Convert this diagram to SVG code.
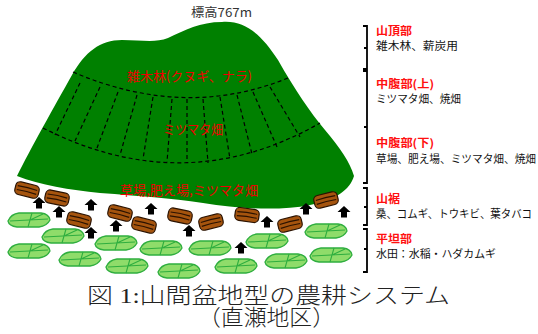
<svg xmlns="http://www.w3.org/2000/svg" xmlns:xlink="http://www.w3.org/1999/xlink" width="538" height="334" viewBox="0 0 538 334">
  <style>
    .zone { font-family: "Noto Sans CJK JP", "Noto Sans", sans-serif; font-size: 13px; fill: #ee0000; }
    .head { font-family: "Noto Sans CJK JP", "Noto Sans", sans-serif; font-size: 11px; fill: #ff1010; font-weight: bold; }
    .note { font-family: "Noto Sans CJK JP", "Noto Sans", sans-serif; font-size: 10.8px; fill: #111; }
    .peak { font-family: "Noto Sans CJK JP", "Noto Sans", sans-serif; font-size: 12px; fill: #333; }
    .caption { font-family: "Liberation Serif", "Noto Sans CJK JP", serif; font-size: 22px; fill: #222; font-weight: 300; }
    .dash { fill: none; stroke: #000; stroke-width: 1.2; stroke-dasharray: 4 3; }
    .brace { fill: none; stroke: #000; stroke-width: 1.8; }
  </style>
  <defs>
    <g id="leaf">
      <path d="M-21,1 Q-18,-6 -10,-7 L12,-7 Q20,-6 21,0 Q18,6 10,7 L-12,7 Q-20,6 -21,1 Z" fill="#8fdc6a" stroke="#2fae3f" stroke-width="1.3"/>
      <path d="M-19,1 L19,-1 M3,-7 L-1,7 M1,0 L14,-6" fill="none" stroke="#2fae3f" stroke-width="1.1"/>
    </g>
    <g id="log">
      <rect x="-12" y="-6.5" width="24" height="13" rx="4.5" fill="#a5540e" stroke="#2a1200" stroke-width="1.2"/>
      <path d="M-10,-2 Q0,-3 10,-2 M-10,2 Q0,1 10,2" fill="none" stroke="#2a1200" stroke-width="1.1"/>
    </g>
    <path id="arrow" d="M0,-6 L6.5,0 L3,0 L3,5.5 L-3,5.5 L-3,0 L-6.5,0 Z" fill="#000"/>
  </defs>

  <rect width="538" height="334" fill="#fff"/>

  <!-- mountain -->
  <g id="mountain">
    <path d="M17,176 C30,150 55,105 72,75 C85,52 100,40 122,40 C142,40 155,43 168,38 C185,30 200,22 222,22 C245,20 262,35 278,60 C295,90 310,112 325,130 C340,148 350,162 354,176 C350,190 335,200 310,205 C280,211 240,209 203,203 C170,198 140,196 100,193 C70,190 40,185 17,176 Z" fill="#008000"/>
    <path class="dash" d="M73,72 Q185,120 288,78"/>
    <path class="dash" d="M43,128 Q185,200 320,123"/>
    <path class="dash" d="M80,83 L55,135 M100,87 L75,141 M118,92 L97,148 M137,95 L120,155 M153,97 L143,159 M172,99 L167,162 M187,99 L187,163 M203,99 L208,163 M220,97 L230,159 M237,95 L252,154 M253,92 L277,147 M270,87 L300,137"/>
  </g>

  <!-- lowland fields -->
  <g id="fields">
    <use xlink:href="#leaf" x="29" y="220"/>
    <use xlink:href="#leaf" x="63" y="236"/>
    <use xlink:href="#leaf" x="29" y="251"/>
    <use xlink:href="#leaf" x="80" y="259"/>
    <use xlink:href="#leaf" x="116" y="243"/>
    <use xlink:href="#leaf" x="127" y="266"/>
    <use xlink:href="#leaf" x="161" y="248"/>
    <use xlink:href="#leaf" x="179" y="271"/>
    <use xlink:href="#leaf" x="210" y="248"/>
    <use xlink:href="#leaf" x="236" y="266"/>
    <use xlink:href="#leaf" x="267" y="241"/>
    <use xlink:href="#leaf" x="286" y="261"/>
    <use xlink:href="#leaf" x="326" y="231"/>
    <use xlink:href="#leaf" x="331" y="255"/>
  </g>

  <!-- foothill plots -->
  <g id="logs">
    <use xlink:href="#log" transform="translate(27,190) rotate(14)"/>
    <use xlink:href="#log" transform="translate(57,198) rotate(12)"/>
    <use xlink:href="#log" transform="translate(79,220) rotate(14)"/>
    <use xlink:href="#log" transform="translate(120,213) rotate(14)"/>
    <use xlink:href="#log" transform="translate(144,225) rotate(14)"/>
    <use xlink:href="#log" transform="translate(180,216) rotate(12)"/>
    <use xlink:href="#log" transform="translate(211,222) rotate(-14)"/>
    <use xlink:href="#log" transform="translate(247,215) rotate(8)"/>
    <use xlink:href="#log" transform="translate(290,224) rotate(-14)"/>
    <use xlink:href="#log" transform="translate(326,200) rotate(-14)"/>
  </g>

  <g id="arrows">
    <use xlink:href="#arrow" x="39" y="203"/>
    <use xlink:href="#arrow" x="59" y="212"/>
    <use xlink:href="#arrow" x="91" y="205"/>
    <use xlink:href="#arrow" x="91" y="233"/>
    <use xlink:href="#arrow" x="116" y="226"/>
    <use xlink:href="#arrow" x="151" y="209"/>
    <use xlink:href="#arrow" x="189" y="231"/>
    <use xlink:href="#arrow" x="241" y="248"/>
    <use xlink:href="#arrow" x="267" y="222"/>
    <use xlink:href="#arrow" x="306" y="209"/>
    <use xlink:href="#arrow" x="344" y="212"/>
  </g>

  <!-- zone labels on the slope -->
  <g id="slope-labels">
    <text class="peak" x="191" y="17" textLength="61" lengthAdjust="spacingAndGlyphs">標高767m</text>
    <text class="zone" x="127" y="81" textLength="125" lengthAdjust="spacingAndGlyphs">雑木林(クヌギ、ナラ)</text>
    <text class="zone" x="163" y="134" textLength="60" lengthAdjust="spacingAndGlyphs">ミツマタ畑</text>
    <text class="zone" x="120" y="195" textLength="138" lengthAdjust="spacingAndGlyphs">草場,肥え場,ミツマタ畑</text>
  </g>

  <!-- zone braces -->
  <g id="braces">
    <path class="brace" d="M363,26 H367 V69 H363 M367,48 H364"/>
    <path class="brace" d="M363,71 H367 V183 H363 M367,127 H364"/>
    <path class="brace" d="M363,188 H367 V225 H363 M367,207 H364"/>
    <path class="brace" d="M363,229 H367 V272 H363 M367,249 H364"/>
  </g>

  <g id="zone-top">
    <text class="head" x="376" y="35" textLength="36" lengthAdjust="spacingAndGlyphs">山頂部</text>
    <text class="note" x="376" y="50" textLength="82" lengthAdjust="spacingAndGlyphs">雑木林、薪炭用</text>
  </g>
  <g id="zone-mid-upper">
    <text class="head" x="376" y="88" textLength="58" lengthAdjust="spacingAndGlyphs">中腹部(上)</text>
    <text class="note" x="376" y="103" textLength="85" lengthAdjust="spacingAndGlyphs">ミツマタ畑、焼畑</text>
  </g>
  <g id="zone-mid-lower">
    <text class="head" x="376" y="147" textLength="58" lengthAdjust="spacingAndGlyphs">中腹部(下)</text>
    <text class="note" x="376" y="163" textLength="160" lengthAdjust="spacingAndGlyphs">草場、肥え場、ミツマタ畑、焼畑</text>
  </g>
  <g id="zone-foot">
    <text class="head" x="376" y="203" textLength="24" lengthAdjust="spacingAndGlyphs">山裾</text>
    <text class="note" x="376" y="218" textLength="156" lengthAdjust="spacingAndGlyphs">桑、コムギ、トウキビ、葉タバコ</text>
  </g>
  <g id="zone-plain">
    <text class="head" x="376" y="243" textLength="36" lengthAdjust="spacingAndGlyphs">平坦部</text>
    <text class="note" x="376" y="258" textLength="120" lengthAdjust="spacingAndGlyphs">水田：水稲・ハダカムギ</text>
  </g>

  <g id="caption">
    <text class="caption" x="87" y="303" textLength="363" lengthAdjust="spacingAndGlyphs">図 1:山間盆地型の農耕システム</text>
    <text class="caption" x="198" y="325" textLength="137" lengthAdjust="spacingAndGlyphs">（直瀬地区）</text>
  </g>
</svg>
